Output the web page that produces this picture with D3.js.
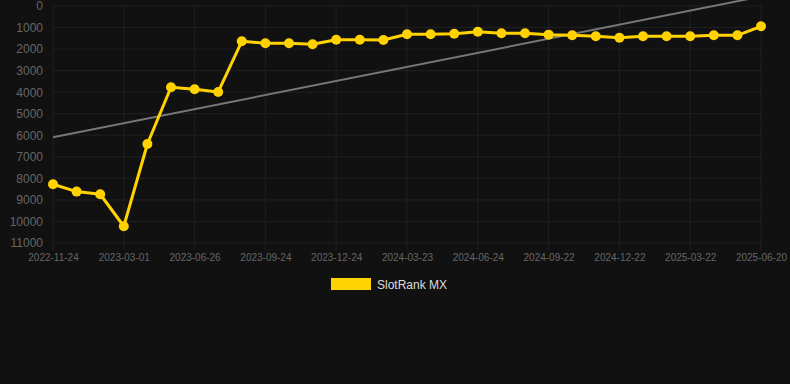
<!DOCTYPE html>
<html><head><meta charset="utf-8">
<script src="https://cdn.jsdelivr.net/npm/d3@7"></script>
<style>html,body{margin:0;padding:0;background:#111111;}svg{display:block;}</style>
</head><body>
<svg id="c" width="790" height="384"></svg>
<script>
const tickLabels = ["2022-11-24","2023-03-01","2023-06-26","2023-09-24","2023-12-24","2024-03-23","2024-06-24","2024-09-22","2024-12-22","2025-03-22","2025-06-20"];
const tickIndices = [0,3,6,9,12,15,18,21,24,27,30];
const rankValues = [8275,8615,8738,10223,6404,3773,3866,3991,1640,1732,1732,1779,1563,1563,1578,1315,1315,1284,1191,1268,1268,1330,1361,1407,1470,1407,1407,1407,1361,1361,943];
const trendIndex = [0,30];
const trendValues = [6094,-440];
const yTicks = [0,1000,2000,3000,4000,5000,6000,7000,8000,9000,10000,11000];
const seriesName = "SlotRank MX";

(function(){
const svg = d3.select("#c");
const pL = 53, pR = 761, pT = 6, pB = 243;
const x = d3.scaleLinear().domain([0, rankValues.length - 1]).range([pL, pR]);
const y = d3.scaleLinear().domain([0, 11000]).range([pT, pB]);
const font = "'Liberation Sans', Arial, sans-serif";

const grid = svg.append("g");
grid.selectAll("line.h").data(yTicks).join("line")
  .attr("x1", pL).attr("x2", pR)
  .attr("y1", d => y(d)).attr("y2", d => y(d))
  .attr("stroke", "#202020").attr("stroke-width", 1);
grid.selectAll("line.v").data(tickIndices).join("line")
  .attr("x1", d => x(d)).attr("x2", d => x(d))
  .attr("y1", pT).attr("y2", pB + 7)
  .attr("stroke", "#202020").attr("stroke-width", 1);

const yAxis = d3.axisLeft(y).tickValues(yTicks).tickSize(0).tickPadding(10).tickFormat(d3.format("d"));
const ya = svg.append("g").attr("transform", `translate(${pL},0)`).call(yAxis);
ya.select(".domain").remove();
ya.selectAll("text").attr("fill", "#666").style("font-family", font).style("font-size", "12px");

const xAxis = d3.axisBottom(x).tickValues(tickIndices).tickSize(0).tickPadding(11)
  .tickFormat((d, i) => tickLabels[i]);
const xa = svg.append("g").attr("transform", `translate(0,${pB})`).call(xAxis);
xa.select(".domain").remove();
xa.selectAll("text").attr("fill", "#666").style("font-family", font).style("font-size", "10px");

svg.append("clipPath").attr("id", "clip").append("rect").attr("x", 0).attr("y", 0).attr("width", 790).attr("height", pB);
svg.append("path").attr("clip-path", "url(#clip)")
  .datum(trendIndex.map((d, i) => [d, trendValues[i]]))
  .attr("d", d3.line().x(d => x(d[0])).y(d => y(d[1])))
  .attr("fill", "none").attr("stroke", "#777").attr("stroke-width", 2);

const color = "#FFD200";
svg.append("path").datum(rankValues)
  .attr("d", d3.line().x((d, i) => x(i)).y(d => y(d)))
  .attr("fill", "none").attr("stroke", color).attr("stroke-width", 3).attr("stroke-linejoin", "round");
svg.selectAll("circle.p").data(rankValues).join("circle")
  .attr("cx", (d, i) => x(i)).attr("cy", d => y(d)).attr("r", 5).attr("fill", color);

const lg = svg.append("g");
lg.append("rect").attr("x", 331).attr("y", 278).attr("width", 40).attr("height", 12).attr("fill", color);
lg.append("text").attr("x", 377).attr("y", 288.5).text(seriesName)
  .attr("fill", "#ddd").style("font-family", font).style("font-size", "12px");
})();
</script>
</body></html>
